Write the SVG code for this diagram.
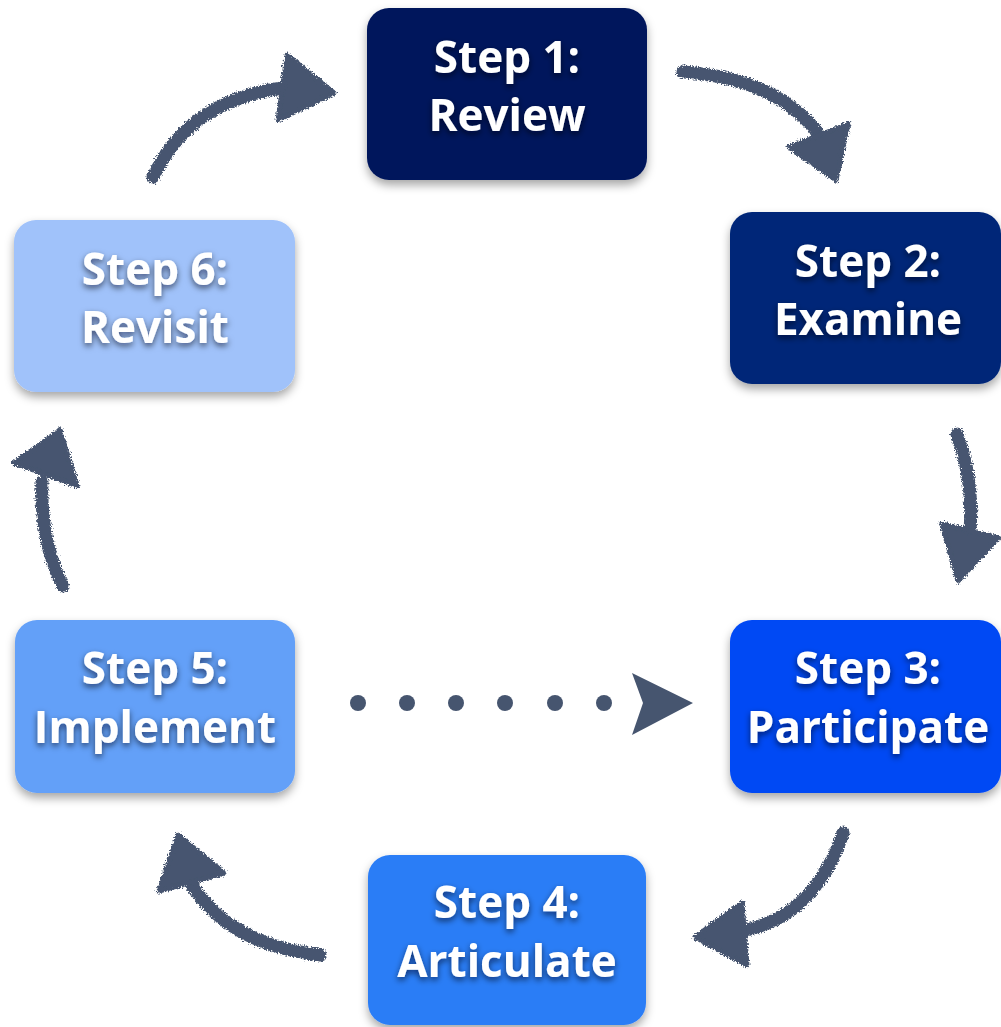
<svg xmlns="http://www.w3.org/2000/svg" width="1001" height="1027" viewBox="0 0 1001 1027">
  <defs>
    <filter id="boxShadow" x="-20%" y="-20%" width="140%" height="150%">
      <feDropShadow dx="0" dy="5" stdDeviation="5" flood-color="#000" flood-opacity="0.35"/>
    </filter>
    <filter id="textShadow" x="-20%" y="-30%" width="140%" height="170%">
      <feDropShadow dx="0" dy="3" stdDeviation="3" flood-color="#001" flood-opacity="0.6"/>
    </filter>
    <filter id="chalk" x="-10%" y="-10%" width="120%" height="120%">
      <feTurbulence type="fractalNoise" baseFrequency="0.7" numOctaves="2" seed="3" result="noise"/>
      <feDisplacementMap in="SourceGraphic" in2="noise" scale="6" xChannelSelector="R" yChannelSelector="G"/>
    </filter>
    <style>
      .box { filter: url(#boxShadow); }
      .label { font-family: "Open Sans", "Noto Sans", "Liberation Sans", sans-serif; font-weight: bold; font-size: 44px; fill: #ffffff; text-anchor: middle; filter: url(#textShadow); }
      .shaft { fill: none; stroke: #46556f; stroke-width: 13; stroke-linecap: round; }
      .head { fill: #46556f; stroke: #46556f; stroke-width: 5; stroke-linejoin: round; }
      .dot { fill: #46556f; }
    </style>
  </defs>

  <rect width="1001" height="1027" fill="#ffffff"/>

  <g id="connectors">
    <g filter="url(#chalk)">
      <path class="shaft" d="M153,177 Q190,100 282,88"/>
      <polygon class="head" points="287,55 334,93 278,120"/>

      <path class="shaft" d="M683,72 Q775,78 818,133"/>
      <polygon class="head" points="848,124 789,147 836,180"/>

      <path class="shaft" d="M957,434 Q974,480 970,530"/>
      <polygon class="head" points="942,524 998,538 958,581"/>

      <path class="shaft" d="M843,833 Q815,915 746,930"/>
      <polygon class="head" points="742,903 695,937 747,965"/>

      <path class="shaft" d="M320,955 Q230,945 192,885"/>
      <polygon class="head" points="178,835 224,873 159,891"/>

      <path class="shaft" d="M63,586 Q40,540 42,482"/>
      <polygon class="head" points="60,430 14,463 77,486"/>
    </g>
    <g id="dotted">
      <circle class="dot" cx="358" cy="703" r="8"/>
      <circle class="dot" cx="407" cy="703" r="8"/>
      <circle class="dot" cx="456" cy="703" r="8"/>
      <circle class="dot" cx="505" cy="703" r="8"/>
      <circle class="dot" cx="555" cy="703" r="8"/>
      <circle class="dot" cx="604" cy="703" r="8"/>
      <polygon class="dot" points="632,673 693,703 632,735 643,703"/>
    </g>
  </g>

  <g id="step1">
    <rect class="box" x="367" y="8" width="280" height="172" rx="22" fill="#04175b"/>
    <text class="label" x="507" y="73">Step 1:</text>
    <text class="label" x="507" y="131">Review</text>
  </g>
  <g id="step2">
    <rect class="box" x="730" y="212" width="271" height="172" rx="22" fill="#062878"/>
    <text class="label" x="868" y="277">Step 2:</text>
    <text class="label" x="868" y="335">Examine</text>
  </g>
  <g id="step3">
    <rect class="box" x="730" y="620" width="271" height="173" rx="22" fill="#0048f4"/>
    <text class="label" x="868" y="684">Step 3:</text>
    <text class="label" x="868" y="743">Participate</text>
  </g>
  <g id="step4">
    <rect class="box" x="368" y="855" width="278" height="170" rx="22" fill="#2b7df6"/>
    <text class="label" x="507" y="918">Step 4:</text>
    <text class="label" x="507" y="977">Articulate</text>
  </g>
  <g id="step5">
    <rect class="box" x="15" y="620" width="280" height="173" rx="22" fill="#64a0f8"/>
    <text class="label" x="155" y="684">Step 5:</text>
    <text class="label" x="155" y="743">Implement</text>
  </g>
  <g id="step6">
    <rect class="box" x="14" y="220" width="281" height="172" rx="22" fill="#a0c2fa"/>
    <text class="label" x="155" y="285">Step 6:</text>
    <text class="label" x="155" y="343">Revisit</text>
  </g>
</svg>
